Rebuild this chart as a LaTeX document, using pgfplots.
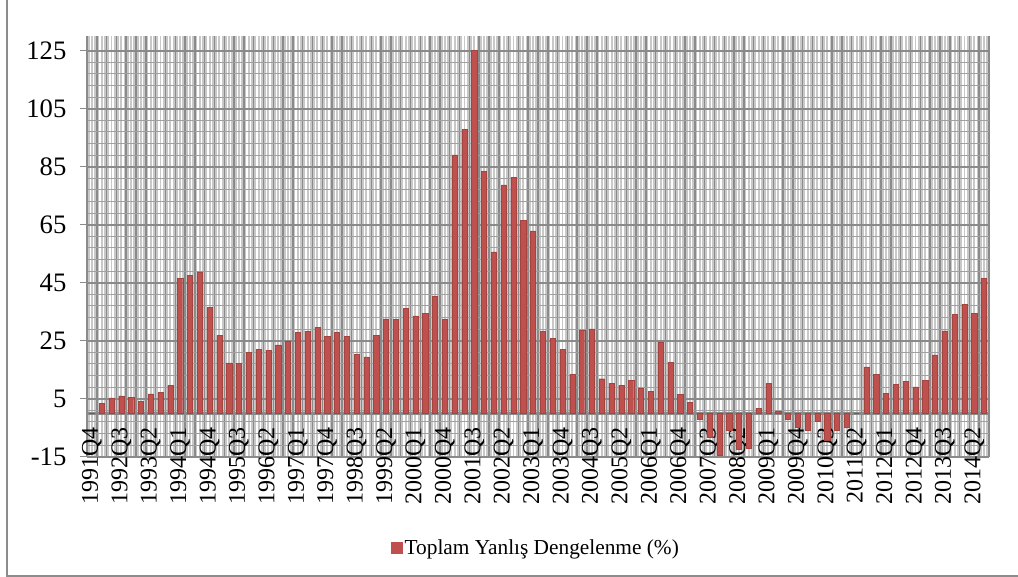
\documentclass[border=0pt]{standalone}
\usepackage{fontspec}
\setmainfont{Liberation Serif}
\usepackage{pgfplots}
\pgfplotsset{compat=1.18}
\definecolor{barred}{RGB}{192,80,77}
\definecolor{gridd}{RGB}{138,138,138}
\definecolor{gridm}{RGB}{160,160,160}
\definecolor{bgg}{RGB}{200,200,200}
\definecolor{framec}{RGB}{140,140,140}
\begin{document}
\begin{tikzpicture}
\useasboundingbox (0pt,0pt) rectangle (763.5pt,432.75pt);
\draw[framec, line width=1.3pt] (5.25pt,0pt) -- (5.25pt,432.75pt);
\draw[framec, line width=1.3pt] (5.25pt,0.75pt) -- (763.5pt,0.75pt);
\begin{axis}[
  at={(65.25pt,90.2pt)}, anchor=south west,
  scale only axis, width=676.5pt, height=315.4pt,
  xmin=-0.5, xmax=91.5, ymin=-15, ymax=130,
  axis x line*=middle, axis y line*=left,
  axis background/.style={fill=bgg},
  /pgf/number format/assume math mode=true,
  xtick={-0.5,0.5,...,91.5}, xticklabel={\phantom{0}}, minor x tick num=2,
  xtick style={draw=none},
  xmajorgrids, xminorgrids, ymajorgrids, yminorgrids,
  major x grid style={gridd, line width=1.1pt},
  minor x grid style={white, line width=1.0pt},
  major y grid style={gridd, line width=1.4pt},
  minor y grid style={gridm, line width=0.8pt},
  ytick={-15,5,...,125}, minor y tick num=4,
  tick align=outside, major tick length=5.25pt, minor tick length=0pt,
  ytick style={gridd, line width=0.8pt},
  y axis line style={gridd, line width=0.8pt},
  x axis line style={gridd, line width=2.2pt},
  yticklabel style={font=\fontsize{20}{23}\selectfont, inner xsep=10pt},
  extra x ticks={0,3,...,90},
  extra x tick labels={1991Q4,1992Q3,1993Q2,1994Q1,1994Q4,1995Q3,1996Q2,1997Q1,1997Q4,1998Q3,1999Q2,2000Q1,2000Q4,2001Q3,2002Q2,2003Q1,2003Q4,2004Q3,2005Q2,2006Q1,2006Q4,2007Q3,2008Q2,2009Q1,2009Q4,2010Q3,2011Q2,2012Q1,2012Q4,2013Q3,2014Q2},
  extra x tick style={grid=none, tick style={draw=none},
    tick label style={rotate=90, anchor=east, font=\fontsize{18}{20}\selectfont, inner xsep=5pt}},
  legend style={at={(0.498,-0.217)}, anchor=center, draw=none, fill=none,
    font=\fontsize{16}{19}\selectfont},
  legend image code/.code={\fill[barred] (0pt,-3.8pt) rectangle (8pt,4.2pt);},
]
\addplot[ybar, bar width=3.9pt, fill=barred, draw=barred!85!black, line width=0.3pt] coordinates {
(0,0) (1,3.4) (2,5.3) (3,6.0) (4,5.5) (5,4.1) (6,6.7) (7,7.1) (8,9.6)
(9,46.5) (10,47.6) (11,48.7) (12,36.6) (13,26.8) (14,17.4) (15,17.3) (16,20.9)
(17,22.0) (18,21.6) (19,23.6) (20,24.8) (21,28.0) (22,28.3) (23,29.7) (24,26.6)
(25,27.8) (26,26.5) (27,20.4) (28,19.4) (29,26.8) (30,32.5) (31,32.3) (32,36.2)
(33,33.6) (34,34.5) (35,40.3) (36,32.3) (37,89.1) (38,97.8) (39,125) (40,83.5)
(41,55.6) (42,78.7) (43,81.3) (44,66.5) (45,62.9) (46,28.2) (47,25.9) (48,22.0)
(49,13.3) (50,28.6) (51,29.1) (52,11.9) (53,10.3) (54,9.6) (55,11.4) (56,8.5)
(57,7.5) (58,24.4) (59,17.6) (60,6.6) (61,3.7) (62,-2.1) (63,-8.3) (64,-14.4)
(65,-6.0) (66,-12.5) (67,-12.1) (68,1.7) (69,10.3) (70,0.7) (71,-2.1) (72,-4.7)
(73,-5.9) (74,-2.7) (75,-9.4) (76,-5.8) (77,-4.8) (78,0) (79,16.0) (80,13.5)
(81,6.8) (82,10.0) (83,11.1) (84,9.1) (85,11.4) (86,20.1) (87,28.4) (88,34.1)
(89,37.6) (90,34.5) (91,46.6)
};
\addlegendentry{Toplam Yanlış Dengelenme (\%)}
\end{axis}
\end{tikzpicture}
\end{document}
